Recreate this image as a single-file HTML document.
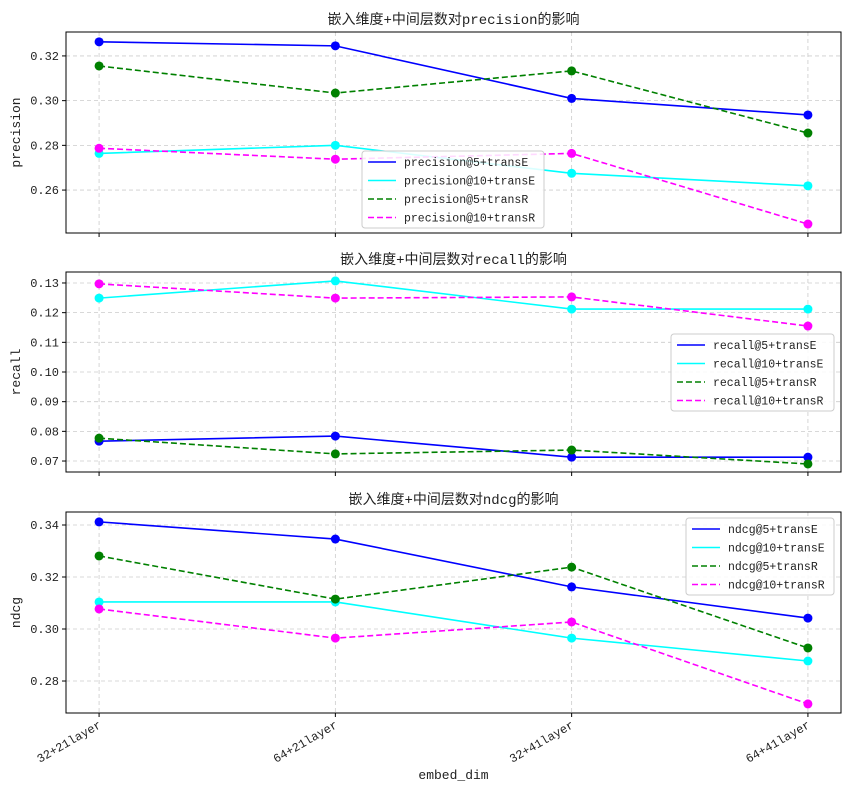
<!DOCTYPE html>
<html><head><meta charset="utf-8"><style>
body{margin:0;background:#fff;}
svg text{font-family:"Liberation Mono","Noto Sans CJK SC",monospace;fill:#222;}
</style></head><body>
<svg id="chart" width="850" height="792" xmlns="http://www.w3.org/2000/svg"></svg>
<script>
const categories=["32+21layer","64+21layer","32+41layer","64+41layer"];
const precision5E=[0.3263,0.3245,0.3010,0.2936];
const precision10E=[0.2764,0.2800,0.2675,0.2619];
const precision5R=[0.3155,0.3034,0.3133,0.2855];
const precision10R=[0.2787,0.2738,0.2764,0.2448];
const recall5E=[0.0767,0.0784,0.0713,0.0713];
const recall10E=[0.1249,0.1307,0.1212,0.1212];
const recall5R=[0.0777,0.0724,0.0737,0.0690];
const recall10R=[0.1297,0.1249,0.1253,0.1155];
const ndcg5E=[0.3412,0.3346,0.3162,0.3042];
const ndcg10E=[0.3104,0.3104,0.2965,0.2877];
const ndcg5R=[0.3281,0.3115,0.3238,0.2927];
const ndcg10R=[0.3077,0.2965,0.3027,0.2712];
const precisionTicks=[0.26,0.28,0.30,0.32];
const recallTicks=[0.07,0.08,0.09,0.10,0.11,0.12,0.13];
const ndcgTicks=[0.28,0.30,0.32,0.34];

const NS="http://www.w3.org/2000/svg";
const svg=document.getElementById('chart');
function mk(tag,attrs,parent){const e=document.createElementNS(NS,tag);for(const k in attrs)e.setAttribute(k,attrs[k]);(parent||svg).appendChild(e);return e;}
const L=66,R=841;
const xs=i=>L+(i+0.14)/(3.28)*(R-L);
function panel(cfg){
  const {top,bot,ymin,ymax,ticks,title,ylabel,series,legend,key}=cfg;
  const g=mk('g',{});
  
  
  const ys=v=>bot-(v-ymin)/(ymax-ymin)*(bot-top);
  categories.forEach((c,i)=>{
    const x=xs(i);
    const gl=mk('line',{x1:x,x2:x,y1:top,y2:bot,stroke:'#ccc','stroke-dasharray':'4,3','stroke-width':0.8},g);
    
    
    mk('line',{x1:x,x2:x,y1:bot,y2:bot+4,stroke:'#000'},g);
  });
  ticks.forEach(t=>{
    const y=ys(t);
    const gl=mk('line',{x1:L,x2:R,y1:y,y2:y,stroke:'#ccc','stroke-dasharray':'4,3','stroke-width':0.8},g);
    
    
    mk('line',{x1:L-4,x2:L,y1:y,y2:y,stroke:'#000'},g);
    const tx=mk('text',{x:L-7,y:y+4,'text-anchor':'end','font-size':12},g);
    tx.textContent=t.toFixed(2);
    
    
  });
  series.forEach(s=>{
    const pts=s.data.map((v,i)=>xs(i)+','+ys(v)).join(' ');
    const pl=mk('polyline',{points:pts,fill:'none',stroke:s.color,'stroke-width':1.6,'stroke-dasharray':s.dash?'6,3':'none'},g);
    
    
    s.data.forEach((v,i)=>{
      const c=mk('circle',{cx:xs(i),cy:ys(v),r:4.5,fill:s.color},g);
      
      
    });
  });
  mk('rect',{x:L,y:top,width:R-L,height:bot-top,fill:'none',stroke:'#000','stroke-width':1},g);
  const tt=mk('text',{x:(L+R)/2,y:top-8,'text-anchor':'middle','font-size':14},g);
  tt.textContent=title;
  
  
  const yl=mk('text',{x:0,y:0,'text-anchor':'middle','font-size':13,transform:`translate(20,${(top+bot)/2}) rotate(-90)`},g);
  yl.textContent=ylabel;
  
  
  const lg=mk('g',{},g);
  
  
  mk('rect',{x:legend.x,y:legend.y,width:legend.w,height:77,fill:'#fff','fill-opacity':0.85,stroke:'#ccc',rx:3},lg);
  series.forEach((s,i)=>{
    const y=legend.y+11+i*18.5;
    mk('line',{x1:legend.x+6,x2:legend.x+34,y1:y,y2:y,stroke:s.color,'stroke-width':1.6,'stroke-dasharray':s.dash?'6,3':'none'},lg);
    const t=mk('text',{x:legend.x+42,y:y+4,'font-size':11.5},lg);
    t.textContent=s.name;
    
    
  });
}
panel({key:'precision',top:32,bot:233,ymin:0.2408,ymax:0.3307,ticks:precisionTicks,title:'嵌入维度+中间层数对precision的影响',ylabel:'precision',
 legend:{x:362,y:151,w:182},
 series:[{name:'precision@5+transE',data:precision5E,color:'#0000ff'},{name:'precision@10+transE',data:precision10E,color:'#00ffff'},
 {name:'precision@5+transR',data:precision5R,color:'#008000',dash:1},{name:'precision@10+transR',data:precision10R,color:'#ff00ff',dash:1}]});
panel({key:'recall',top:272,bot:472,ymin:0.0663,ymax:0.1337,ticks:recallTicks,title:'嵌入维度+中间层数对recall的影响',ylabel:'recall',
 legend:{x:671,y:334,w:163},
 series:[{name:'recall@5+transE',data:recall5E,color:'#0000ff'},{name:'recall@10+transE',data:recall10E,color:'#00ffff'},
 {name:'recall@5+transR',data:recall5R,color:'#008000',dash:1},{name:'recall@10+transR',data:recall10R,color:'#ff00ff',dash:1}]});
panel({key:'ndcg',top:512,bot:713,ymin:0.2677,ymax:0.345,ticks:ndcgTicks,title:'嵌入维度+中间层数对ndcg的影响',ylabel:'ndcg',
 legend:{x:686,y:518,w:148},
 series:[{name:'ndcg@5+transE',data:ndcg5E,color:'#0000ff'},{name:'ndcg@10+transE',data:ndcg10E,color:'#00ffff'},
 {name:'ndcg@5+transR',data:ndcg5R,color:'#008000',dash:1},{name:'ndcg@10+transR',data:ndcg10R,color:'#ff00ff',dash:1}]});
categories.forEach((c,i)=>{
  const x=xs(i);
  const t=mk('text',{x:0,y:0,'text-anchor':'end','font-size':12,transform:`translate(${x+3},${727}) rotate(-30)`});
  t.textContent=c;
  
  
});
const xt=mk('text',{x:(L+R)/2,y:779,'text-anchor':'middle','font-size':13});
xt.textContent='embed_dim';


</script>
</body></html>
